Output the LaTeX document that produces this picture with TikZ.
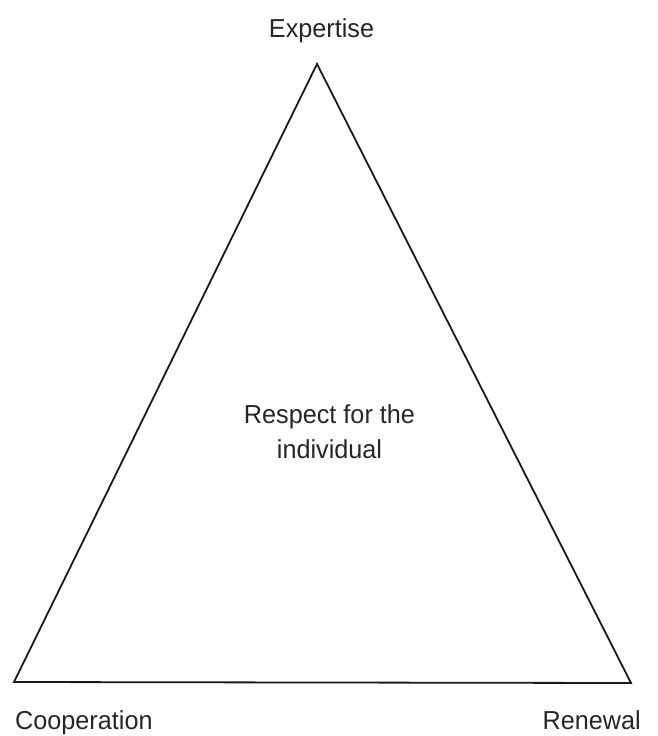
\documentclass[tikz,border=0pt]{standalone}
\usepackage{fontspec}
\setmainfont{Liberation Sans}[FakeStretch=0.97]
\begin{document}
\begin{tikzpicture}[x=1pt,y=-1pt,
  lbl/.style={inner sep=0pt,font=\fontsize{26}{35}\selectfont,text=black!85},
  edge/.style={draw=black!90,line width=1.8pt,line join=miter}]
\useasboundingbox (0,0) rectangle (658,736);
\coordinate (top) at (317,64);
\coordinate (bl) at (14,682);
\coordinate (br) at (631,683);
\draw[edge] (top) -- (bl) -- (br) -- cycle;
\node[lbl,anchor=base] (exp) at (321.5,37) {Expertise};
\node[lbl,anchor=base west] (coop) at (15,729) {Cooperation};
\node[lbl,anchor=base east] (ren) at (641,729) {Renewal};
\node[lbl,anchor=base,align=center] (resp) at (329.5,458) {Respect for the\\individual};
\end{tikzpicture}
\end{document}
